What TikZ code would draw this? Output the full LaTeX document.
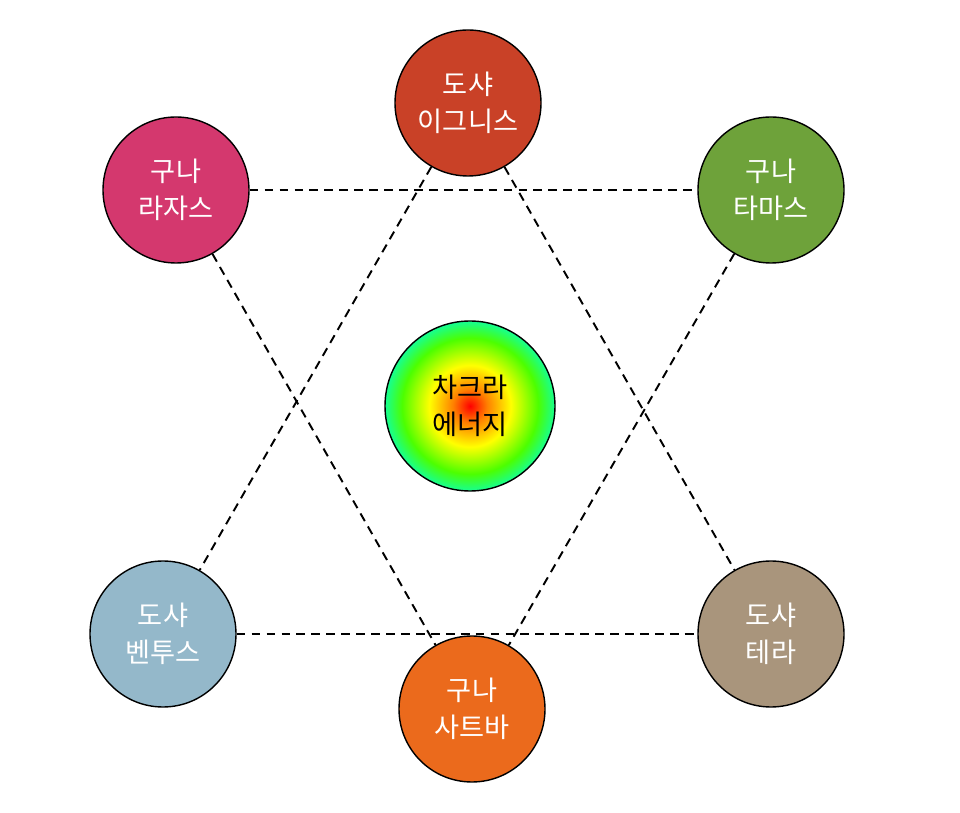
\documentclass[tikz,border=0pt]{standalone}
\usepackage{fontspec}
\newfontfamily\kr{Noto Sans CJK KR}
\pgfdeclareradialshading{chakra}{\pgfpoint{0bp}{0bp}}{color(0bp)=(red); color(5bp)=(orange); color(12bp)=(yellow); color(20bp)=(green!70!yellow); color(27bp)=(cyan!80!green); color(34bp)=(blue!50!cyan!80!white); color(41bp)=(violet!60!blue!70!white); color(50bp)=(violet!55!purple!75!white)}
\definecolor{cTop}{HTML}{C94127}
\definecolor{cLT}{HTML}{D4386E}
\definecolor{cRT}{HTML}{6EA23A}
\definecolor{cBL}{HTML}{94B8CA}
\definecolor{cBR}{HTML}{A9957C}
\definecolor{cB}{HTML}{EB6A1C}
\begin{document}
\begin{tikzpicture}[x=0.02cm,y=-0.02cm,
  chak/.style={circle,draw=black,line width=0.8pt,minimum size=146*0.02cm,inner sep=0pt,align=center,text=white,font=\kr\fontsize{15.5}{21}\selectfont},
  link/.style={dashed,line width=1.1pt,dash pattern=on 5pt off 3.5pt}]
\useasboundingbox (0,0) rectangle (960,813);
\node[chak,fill=cTop] (top) at (468,103) {도샤\\이그니스};
\node[chak,fill=cLT] (lt) at (176,190) {구나\\라자스};
\node[chak,fill=cRT] (rt) at (771,190) {구나\\타마스};
\node[chak,fill=cBL] (bl) at (163,634) {도샤\\벤투스};
\node[chak,fill=cBR] (br) at (771,634) {도샤\\테라};
\node[chak,fill=cB] (bot) at (472,709) {구나\\사트바};
\node[chak,shading=chakra,minimum size=170*0.02cm,text=black] (c) at (470,406) {차크라\\에너지};
\draw[link] (top) -- (bl);
\draw[link] (top) -- (br);
\draw[link] (bl) -- (br);
\draw[link] (lt) -- (rt);
\draw[link] (lt) -- (bot);
\draw[link] (rt) -- (bot);
\end{tikzpicture}
\end{document}
